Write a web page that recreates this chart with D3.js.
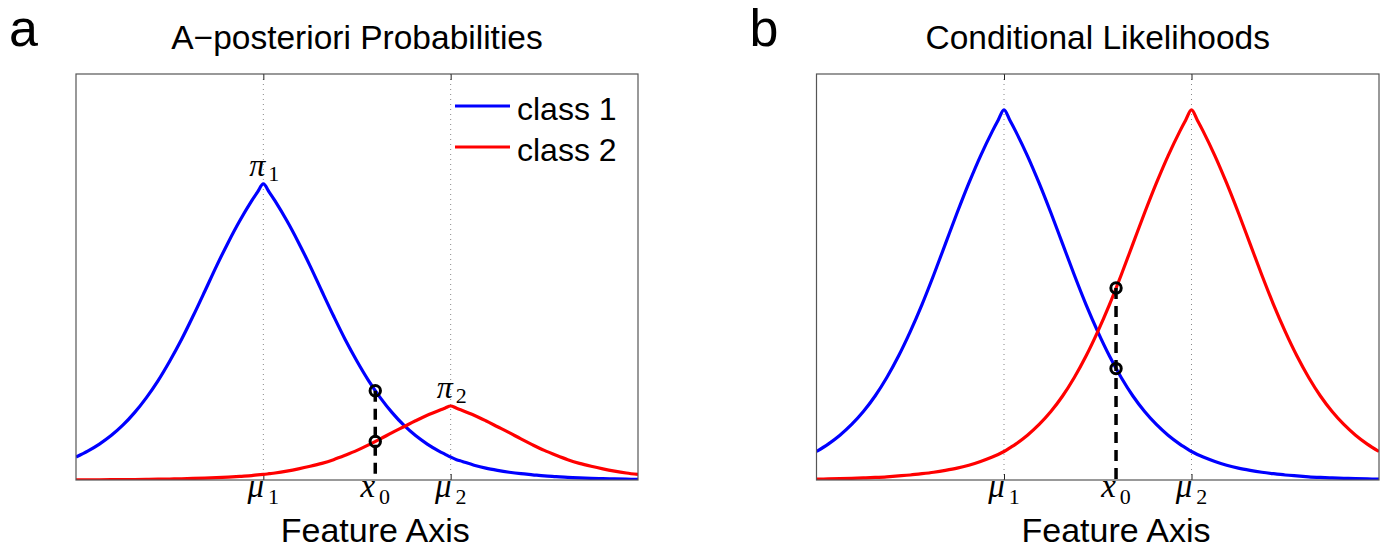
<!DOCTYPE html>
<html>
<head>
<meta charset="utf-8">
<script src="https://cdn.jsdelivr.net/npm/d3@7"></script>
<style>
  html, body { margin: 0; padding: 0; background: #fff; }
  svg { display: block; }
</style>
</head>
<body>
<svg id="chart" width="1380" height="550"></svg>
<script>
// ---------------- data ----------------
const featureX = [-4,-3.75,-3.5,-3.25,-3,-2.75,-2.5,-2.25,-2,-1.75,-1.5,-1.25,-1,-0.75,-0.5,-0.25,-0.125,
  0,0.125,0.25,0.5,0.75,1,1.25,1.5,1.75,2,2.25,2.5,2.75,3,3.25,3.5,3.75,3.875,
  4,4.125,4.25,4.5,4.75,5,5.25,5.5,5.75,6,6.25,6.5,6.75,7,7.25,7.5,7.75,8];

// panel b: conditional likelihoods
const likelihoodClass1 = [0.077,0.097,0.121,0.150,0.185,0.227,0.277,0.335,0.401,0.474,0.554,0.638,0.722,0.802,0.876,0.942,0.972,
  1.000,0.972,0.942,0.876,0.802,0.722,0.638,0.554,0.474,0.401,0.335,0.277,0.227,0.185,0.150,0.121,0.097,0.087,
  0.077,0.069,0.062,0.050,0.040,0.032,0.026,0.021,0.017,0.0135,0.011,0.0087,0.007,0.0056,0.0045,0.0036,0.0029,0.0023];
const likelihoodClass2 = [0.0023,0.0029,0.0036,0.0045,0.0056,0.007,0.0087,0.011,0.0135,0.017,0.021,0.026,0.032,0.040,0.050,0.062,0.069,
  0.077,0.087,0.097,0.121,0.150,0.185,0.227,0.277,0.335,0.401,0.474,0.554,0.638,0.722,0.802,0.876,0.942,0.972,
  1.000,0.972,0.942,0.876,0.802,0.722,0.638,0.554,0.474,0.401,0.335,0.277,0.227,0.185,0.150,0.121,0.097,0.077];

// panel a: a-posteriori (prior-weighted) curves
const posteriorClass1 = [0.062,0.078,0.097,0.120,0.148,0.182,0.222,0.268,0.321,0.379,0.443,0.510,0.578,0.642,0.701,0.754,0.778,
  0.800,0.778,0.754,0.701,0.642,0.578,0.510,0.443,0.379,0.321,0.268,0.222,0.182,0.148,0.120,0.097,0.078,0.070,
  0.062,0.055,0.050,0.040,0.032,0.026,0.021,0.017,0.014,0.011,0.009,0.007,0.0056,0.0045,0.0036,0.0029,0.0023,0.0018];
const posteriorClass2 = [0.0005,0.0006,0.0007,0.0009,0.0011,0.0014,0.0017,0.0022,0.0027,0.0034,0.0042,0.0052,0.0064,0.008,0.010,0.012,0.0138,
  0.015,0.017,0.019,0.024,0.030,0.037,0.045,0.055,0.067,0.080,0.095,0.111,0.128,0.144,0.160,0.175,0.188,0.194,
  0.200,0.194,0.188,0.175,0.160,0.144,0.128,0.111,0.095,0.080,0.067,0.055,0.045,0.037,0.030,0.024,0.019,0.015];

const tickValues = [0, 2.39, 4];                       // mu1, x0, mu2
const tickLabels = [["\u03BC","1"],["x","0"],["\u03BC","2"]];
const gridValues = [0, 4];
const x0Value = 2.39;
const markersA = [0.241, 0.104];
const markersB = [0.301, 0.519];
const peakLabelsA = [{x: 0, y: 0.8, base: "\u03C0", sub: "1"}, {x: 4, y: 0.2, base: "\u03C0", sub: "2"}];
const legendNames = ["class 1", "class 2"];
const seriesColors = ["#0000ff", "#ff0000"];

// ---------------- drawing ----------------
const svg = d3.select("#chart");
const sans = "'Liberation Sans', Arial, Helvetica, sans-serif";
const serif = "'Liberation Serif', 'DejaVu Serif', serif";

const panels = [
  {letter: "a", title: "A\u2212posteriori Probabilities", left: 76, right: 638,
   series: [posteriorClass1, posteriorClass2], markers: markersA, peaks: peakLabelsA, legend: true, id: "pa"},
  {letter: "b", title: "Conditional Likelihoods", left: 816.5, right: 1379,
   series: [likelihoodClass1, likelihoodClass2], markers: markersB, peaks: [], legend: false, id: "pb"}
];
const plotTop = 74, plotBottom = 480;

panels.forEach(p => {
  const x = d3.scaleLinear().domain([-4, 8]).range([p.left, p.right]);
  const y = d3.scaleLinear().domain([0, 1.097]).range([plotBottom, plotTop]);
  const g = svg.append("g");

  g.append("clipPath").attr("id", "clip-" + p.id)
    .append("rect").attr("x", p.left).attr("y", plotTop).attr("width", p.right - p.left).attr("height", plotBottom - plotTop);

  // dotted grid lines at mu1, mu2
  g.selectAll(".grid").data(gridValues).join("line")
    .attr("x1", d => x(d)).attr("x2", d => x(d))
    .attr("y1", plotTop).attr("y2", plotBottom)
    .attr("stroke", "#888").attr("stroke-width", 1).attr("stroke-dasharray", "1,4");

  // ticks (inside, bottom & top)
  const axB = d3.axisBottom(x).tickValues(gridValues).tickSize(-6).tickFormat("");
  const axT = d3.axisTop(x).tickValues(gridValues).tickSize(-6).tickFormat("");
  const gb = g.append("g").attr("transform", `translate(0,${plotBottom})`).call(axB);
  const gt = g.append("g").attr("transform", `translate(0,${plotTop})`).call(axT);
  [gb, gt].forEach(a => { a.select(".domain").remove(); a.selectAll("line").attr("stroke", "#222"); });

  // curves
  const line = d3.line().x((d, i) => x(featureX[i])).y(d => y(d)).curve(d3.curveCatmullRom.alpha(0.5));
  const cg = g.append("g").attr("clip-path", `url(#clip-${p.id})`);
  p.series.forEach((s, k) => {
    cg.append("path").datum(s).attr("d", line)
      .attr("fill", "none").attr("stroke", seriesColors[k]).attr("stroke-width", 3.2)
      .attr("stroke-linejoin", "round");
  });

  // axes box
  g.append("rect").attr("x", p.left).attr("y", plotTop).attr("width", p.right - p.left).attr("height", plotBottom - plotTop)
    .attr("fill", "none").attr("stroke", "#555").attr("stroke-width", 1.2);

  // dashed x0 line and circle markers
  g.append("line").attr("x1", x(x0Value)).attr("x2", x(x0Value))
    .attr("y1", y(d3.max(p.markers))).attr("y2", plotBottom)
    .attr("stroke", "#000").attr("stroke-width", 3.5).attr("stroke-dasharray", "11,7");
  g.selectAll(".mk").data(p.markers).join("circle")
    .attr("cx", x(x0Value)).attr("cy", d => y(d)).attr("r", 5.2)
    .attr("fill", "none").attr("stroke", "#000").attr("stroke-width", 3);

  // tick labels (math)
  tickValues.forEach((v, i) => {
    const t = g.append("text").attr("x", x(v)).attr("y", 497).attr("text-anchor", "middle")
      .attr("font-family", serif).attr("font-size", 33);
    t.append("tspan").attr("font-style", "italic").text(tickLabels[i][0]);
    t.append("tspan").attr("dx", 4).attr("dy", 7).attr("font-size", 22).text(tickLabels[i][1]);
  });

  // peak labels
  p.peaks.forEach(pk => {
    const t = g.append("text").attr("x", x(pk.x) + 1).attr("y", y(pk.y) - 8).attr("text-anchor", "middle")
      .attr("font-family", serif).attr("font-size", 32);
    t.append("tspan").attr("font-style", "italic").text(pk.base);
    t.append("tspan").attr("dx", 3).attr("dy", 5).attr("font-size", 22).text(pk.sub);
  });

  // titles
  g.append("text").attr("x", (p.left + p.right) / 2).attr("y", 49).attr("text-anchor", "middle")
    .attr("font-family", sans).attr("font-size", 33.5).attr("fill", "#000").text(p.title);
  g.append("text").attr("x", x(x0Value)).attr("y", 542).attr("text-anchor", "middle")
    .attr("font-family", sans).attr("font-size", 34).attr("fill", "#000").text("Feature Axis");
  g.append("text").attr("x", p.left - 67).attr("y", 46).attr("text-anchor", "start")
    .attr("font-family", sans).attr("font-size", 52).attr("fill", "#000").text(p.letter);

  // legend
  if (p.legend) {
    const lg = g.append("g");
    legendNames.forEach((name, k) => {
      const ly = 106 + k * 41;
      lg.append("line").attr("x1", 455).attr("x2", 510).attr("y1", ly).attr("y2", ly)
        .attr("stroke", seriesColors[k]).attr("stroke-width", 3.2);
      lg.append("text").attr("x", 517).attr("y", ly + 14).attr("font-family", sans)
        .attr("font-size", 32).attr("fill", "#000").text(name);
    });
  }
});
</script>
</body>
</html>
